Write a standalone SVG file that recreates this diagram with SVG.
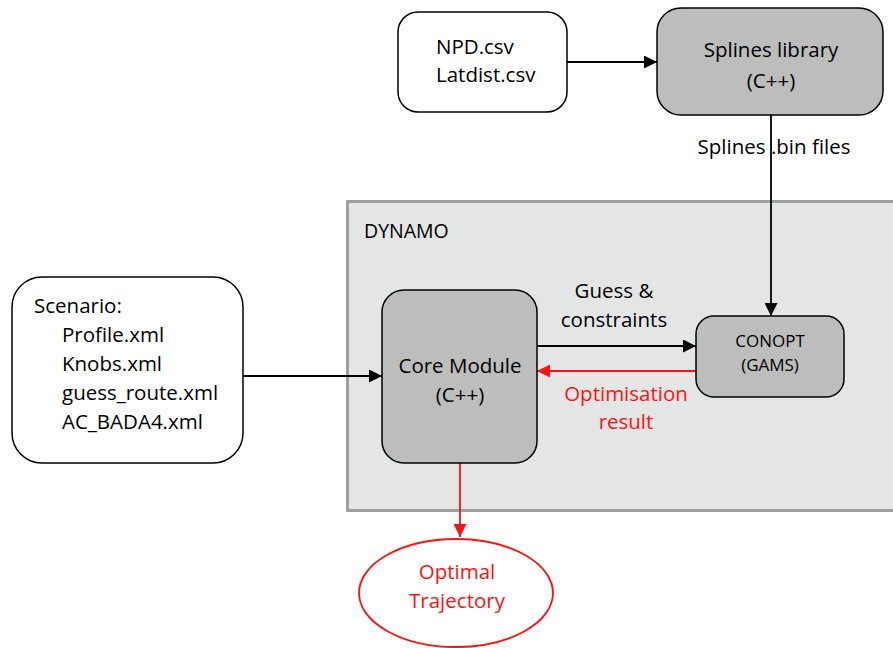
<svg xmlns="http://www.w3.org/2000/svg" width="893" height="648" viewBox="0 0 893 648">
  <defs>
    <marker id="arrowBlack" viewBox="0 0 13 13" refX="13" refY="6.5" markerWidth="13" markerHeight="13" markerUnits="userSpaceOnUse" orient="auto">
      <path d="M0,0 L13,6.5 L0,13 Z" fill="#000"/>
    </marker>
    <marker id="arrowRed" viewBox="0 0 13 13" refX="13" refY="6.5" markerWidth="13" markerHeight="13" markerUnits="userSpaceOnUse" orient="auto">
      <path d="M0,0 L13,6.5 L0,13 Z" fill="#ff1111"/>
    </marker>
    <style>
      text { font-family: "Open Sans", "Liberation Sans", sans-serif; font-size: 20.5px; fill: #000; }
      .mid { text-anchor: middle; }
      .red { fill: #ff1111; }
      .small { font-size: 17px; }
      .box { stroke: #000; stroke-width: 1.5; }
      .white { fill: #fff; }
      .grey { fill: #bdbdbd; }
      .link { fill: none; stroke: #000; stroke-width: 1.8; }
      .linkRed { fill: none; stroke: #ff1111; stroke-width: 1.8; }
    </style>
  </defs>

  <rect width="893" height="648" fill="#fff"/>

  <!-- DYNAMO container -->
  <g id="dynamo">
    <rect x="347.5" y="201.5" width="560" height="309" fill="#e4e5e5" stroke="#a0a0a0" stroke-width="3"/>
    <text x="364" y="238" style="font-size:19.5px">DYNAMO</text>
  </g>

  <!-- connectors -->
  <g id="connectors">
    <line class="link" x1="567" y1="62" x2="657" y2="62" marker-end="url(#arrowBlack)"/>
    <line class="link" x1="771" y1="115" x2="771" y2="316" marker-end="url(#arrowBlack)"/>
    <line class="link" x1="243" y1="376" x2="382" y2="376" marker-end="url(#arrowBlack)"/>
    <line class="link" x1="537" y1="346" x2="696" y2="346" marker-end="url(#arrowBlack)"/>
    <line class="linkRed" x1="696" y1="371" x2="537" y2="371" marker-end="url(#arrowRed)"/>
    <line class="linkRed" x1="460" y1="463" x2="460" y2="537" marker-end="url(#arrowRed)"/>
    <text class="mid" x="774" y="154">Splines .bin files</text>
    <text class="mid" x="614" y="298">Guess &amp;</text>
    <text class="mid" x="614" y="327">constraints</text>
    <text class="mid red" x="626" y="401">Optimisation</text>
    <text class="mid red" x="626" y="429">result</text>
  </g>

  <g id="inputs">
    <rect class="box white" x="398" y="12" width="169" height="100" rx="20"/>
    <text x="436" y="54">NPD.csv</text>
    <text x="436" y="82">Latdist.csv</text>
  </g>

  <g id="splines">
    <rect class="box grey" x="657" y="8" width="226" height="107" rx="24"/>
    <text class="mid" x="771" y="57">Splines library</text>
    <text class="mid" x="771" y="88">(C++)</text>
  </g>

  <g id="scenario">
    <rect class="box white" x="12" y="277" width="231" height="186" rx="30"/>
    <text x="34" y="313">Scenario:</text>
    <text x="62" y="342">Profile.xml</text>
    <text x="62" y="371">Knobs.xml</text>
    <text x="62" y="400">guess_route.xml</text>
    <text x="62" y="429">AC_BADA4.xml</text>
  </g>

  <g id="core">
    <rect class="box grey" x="382" y="290" width="155" height="173" rx="22"/>
    <text class="mid" x="460" y="373">Core Module</text>
    <text class="mid" x="460" y="402">(C++)</text>
  </g>

  <g id="conopt">
    <rect class="box grey" x="696" y="316" width="148" height="81" rx="18"/>
    <text class="mid small" x="770" y="347">CONOPT</text>
    <text class="mid small" x="770" y="371">(GAMS)</text>
  </g>

  <g id="output">
    <ellipse cx="456" cy="593" rx="97" ry="54" fill="#fff" stroke="#ff1111" stroke-width="1.8"/>
    <text class="mid red" x="457" y="579">Optimal</text>
    <text class="mid red" x="457" y="608">Trajectory</text>
  </g>
</svg>
